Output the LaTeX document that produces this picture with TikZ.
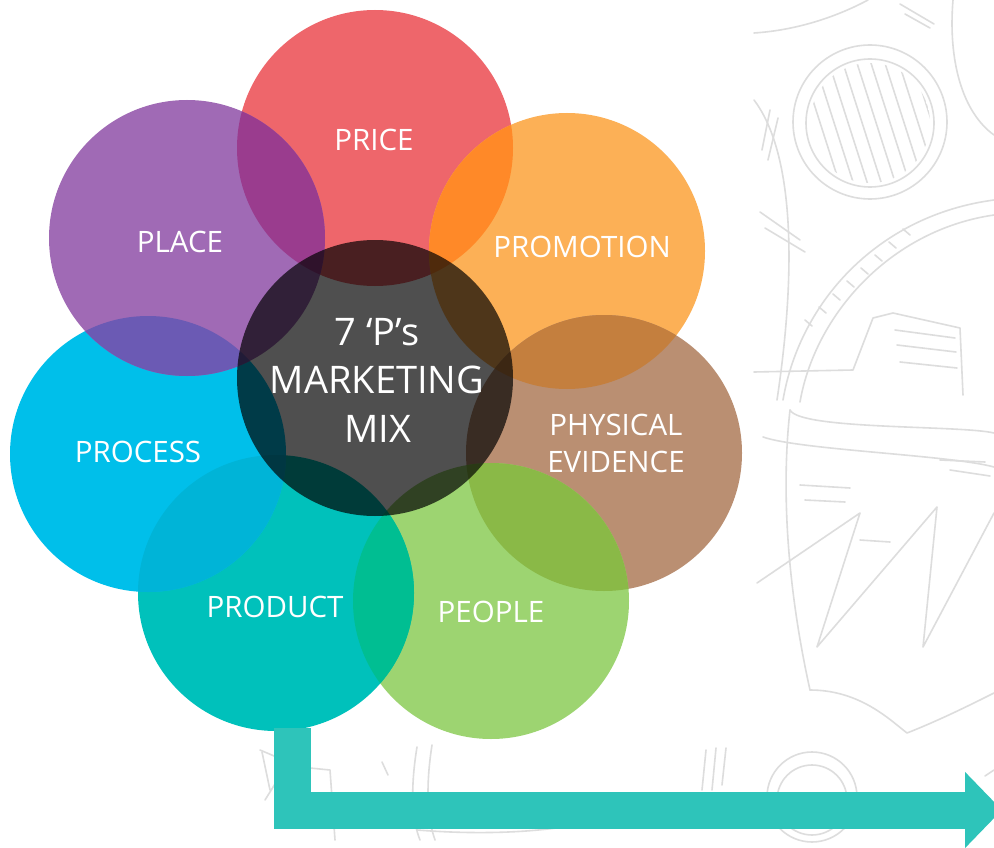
\documentclass[tikz,border=0pt]{standalone}
\usepackage{fontspec}
\setmainfont{Open Sans}
\usetikzlibrary{arrows.meta}

% petal colours
\definecolor{priceC}{HTML}{EE666B}
\definecolor{placeC}{HTML}{A06AB5}
\definecolor{promoC}{HTML}{FCB056}
\definecolor{physC}{HTML}{BA8F72}
\definecolor{peopleC}{HTML}{9DD471}
\definecolor{productC}{HTML}{00C1BB}
\definecolor{processC}{HTML}{00BFEA}
% overlap colours
\definecolor{placePriceC}{HTML}{9A3C8E}
\definecolor{pricePromoC}{HTML}{FF8928}
\definecolor{promoPhysC}{HTML}{C47F3E}
\definecolor{physPeopleC}{HTML}{8AB947}
\definecolor{peopleProductC}{HTML}{00BE92}
\definecolor{productProcessC}{HTML}{00B4D7}
\definecolor{processPlaceC}{HTML}{6B5AB4}
% other
\definecolor{arrowteal}{HTML}{2EC4BA}
\definecolor{sketchgray}{HTML}{DDDDDD}

\newcommand\petalrad{138pt}
% fill the overlap of two petals
\newcommand\lensfill[3]{%
  \begin{scope}
    \clip (#1.center) circle[radius=\petalrad];
    \fill[#3] (#2.center) circle[radius=\petalrad];
  \end{scope}}

\begin{document}
\begin{tikzpicture}[x=1pt,y=-1pt,
  petal/.style={circle, minimum size=276pt, inner sep=0pt, outer sep=0pt, fill=#1},
  petaltext/.style={text=white, anchor=base, inner sep=0pt, font=\fontsize{29.5}{33}\selectfont},
  hubtext/.style={text=white, anchor=base, inner sep=0pt, font=\fontsize{38}{46}\selectfont},
  sketch/.style={draw=sketchgray, line width=1.6pt, line cap=round, line join=round},
  flow/.style={draw=arrowteal, line width=37pt, -{Triangle[length=37pt 0 0,width=74pt 0 0]}}]

\useasboundingbox (0,0) rectangle (994,848);
\fill[white] (0,0) rectangle (994,848);

% faint hand-drawn sketch in the background
\begin{scope}[sketch]
  \draw (870,122) circle[radius=77pt];
  \draw (870,123) circle[radius=64pt];
  \begin{scope}
    \clip (870,123) circle[radius=60pt];
    \foreach \k in {0,...,9} {
      \draw (800+14*\k,60) -- (840+14*\k,185);
    }
  \end{scope}
  \draw (754,33) .. controls (800,30) and (840,15) .. (868,0);
  \draw (900,4) -- (934,24);
  \draw (905,14) -- (930,28);
  \draw (953,0) .. controls (948,60) and (962,112) .. (994,135);
  \draw (754,100) .. controls (792,150) and (798,260) .. (777,400);
  \draw (762,150) -- (770,110);
  \draw (768,160) -- (778,118);
  \draw (783,400) .. controls (800,300) and (880,215) .. (994,200);
  \draw (800,402) .. controls (815,315) and (890,230) .. (994,215);
  \foreach \t in {0,...,7} {
    \draw (805+14*\t,320-13*\t) -- (812+14*\t,326-13*\t);
  }
  \draw (754,372) -- (853,370) -- (873,318) -- (893,313) -- (960,328) -- (963,395);
  \draw (895,330) -- (955,338);
  \draw (897,345) -- (956,352);
  \draw (900,362) -- (957,368);
  \draw (760,212) -- (800,240);
  \draw (765,228) -- (805,252);
  % lower body with zig-zag strokes
  \draw (790,410) .. controls (800,430) and (960,425) .. (994,433);
  \draw (763,437) .. controls (800,450) and (950,455) .. (994,467);
  \draw (790,410) .. controls (780,500) and (790,600) .. (810,690);
  \draw (810,690) .. controls (860,690) and (890,720) .. (907,733) .. controls (940,720) and (970,705) .. (994,693);
  \draw (757,583) -- (860,513) -- (817,647) -- (937,507) -- (923,647) -- (994,513);
  \draw (800,485) -- (850,488);
  \draw (805,500) -- (845,502);
  \draw (860,540) -- (890,542);
  \draw (950,470) -- (990,476);
  \draw (940,460) -- (985,462);
  % small ring near the bottom
  \draw (812,797) circle[radius=45pt];
  \draw (812,800) circle[radius=35pt];
  \draw (706,750) -- (702,790);
  \draw (716,748) -- (712,790);
  \draw (726,748) -- (722,785);
  \draw (985,776) -- (994,770);
  % strokes below the petals
  \draw (260,750) -- (300,767) -- (330,770) -- (335,840);
  \draw (262,752) -- (270,790);
  \draw (290,760) -- (265,800);
  \draw (382,762) -- (388,775);
  \draw (417,747) .. controls (410,790) and (412,820) .. (420,840);
  \draw (432,745) .. controls (425,790) and (428,820) .. (435,840);
  \draw (417,830) .. controls (480,835) and (530,832) .. (563,827);
\end{scope}

% petals, back to front
\node[petal=priceC]    (price)    at (375,148) {};
\node[petal=promoC]    (promo)    at (567,251) {};
\node[petal=physC]     (phys)     at (604,453) {};
\node[petal=peopleC]   (people)   at (491,601) {};
\node[petal=productC]  (product)  at (276,593) {};
\node[petal=processC]  (process)  at (148,454) {};
\node[petal=placeC]    (place)    at (187,238) {};

% overlaps between neighbouring petals
\lensfill{price}{place}{placePriceC}
\lensfill{price}{promo}{pricePromoC}
\lensfill{promo}{phys}{promoPhysC}
\lensfill{phys}{people}{physPeopleC}
\lensfill{people}{product}{peopleProductC}
\lensfill{product}{process}{productProcessC}
\lensfill{process}{place}{processPlaceC}

% translucent hub
\node[circle, minimum size=276pt, inner sep=0pt, fill=black, fill opacity=0.69] (hub) at (375,378) {};

% petal labels
\node[petaltext] (priceL)   at (374,151) {PRICE};
\node[petaltext] (placeL)   at (180,252) {PLACE};
\node[petaltext] (promoL)   at (582,257) {PROMOTION};
\node[petaltext] (physL1)   at (616,435) {PHYSICAL};
\node[petaltext] (physL2)   at (616,472) {EVIDENCE};
\node[petaltext] (peopleL)  at (491,622) {PEOPLE};
\node[petaltext] (productL) at (275,617) {PRODUCT};
\node[petaltext] (processL) at (138,462) {PROCESS};

% hub title
\node[hubtext] (hubL1) at (377,345) {7 ‘P’s};
\node[hubtext] (hubL2) at (377,393) {MARKETING};
\node[hubtext] (hubL3) at (378,442) {MIX};

% outgoing arrow from the product petal
\coordinate (flowstart) at (292,728);
\coordinate (flowend) at (1002,810);
\draw[flow] (flowstart) |- (flowend);

\end{tikzpicture}
\end{document}
